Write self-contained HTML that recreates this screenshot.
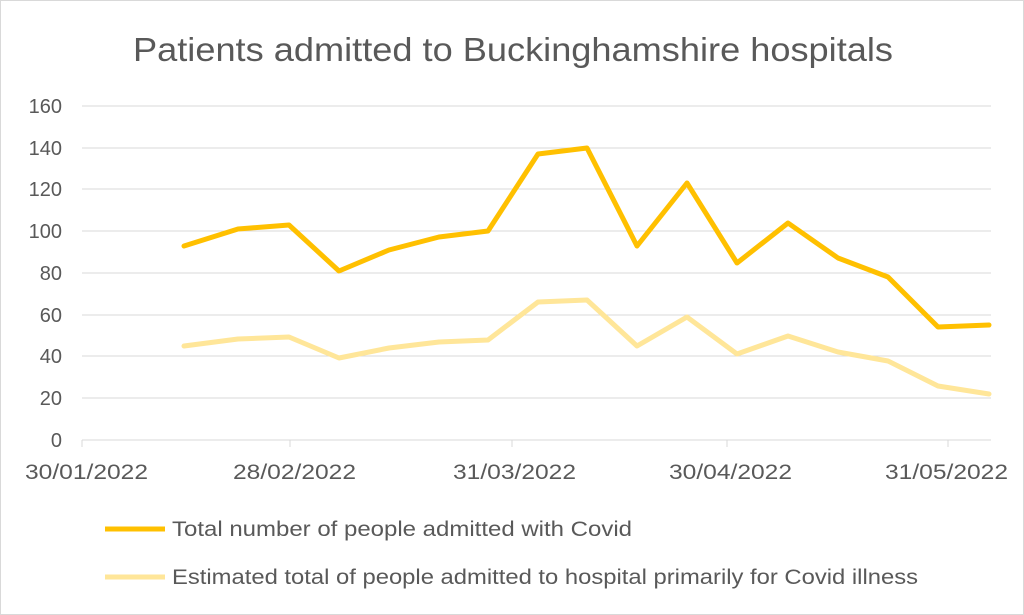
<!DOCTYPE html>
<html><head><meta charset="utf-8"><style>
html,body{margin:0;padding:0;background:#fff;}
svg{display:block;font-family:"Liberation Sans",sans-serif;}
</style></head><body>
<svg width="1024" height="615" viewBox="0 0 1024 615" xmlns="http://www.w3.org/2000/svg">
<rect x="0.5" y="0.5" width="1023" height="614" fill="#fff" stroke="#d9d9d9"/>
<text x="133" y="61" font-size="33" fill="#595959" textLength="760" lengthAdjust="spacingAndGlyphs">Patients admitted to Buckinghamshire hospitals</text>
<g stroke="#d9d9d9" stroke-width="1">
<line x1="82" y1="106" x2="991" y2="106"/>
<line x1="82" y1="148" x2="991" y2="148"/>
<line x1="82" y1="189" x2="991" y2="189"/>
<line x1="82" y1="231" x2="991" y2="231"/>
<line x1="82" y1="273" x2="991" y2="273"/>
<line x1="82" y1="315" x2="991" y2="315"/>
<line x1="82" y1="356" x2="991" y2="356"/>
<line x1="82" y1="398" x2="991" y2="398"/>
<line x1="82" y1="440" x2="991" y2="440"/>
<line x1="82" y1="440" x2="82" y2="447"/>
<line x1="290" y1="440" x2="290" y2="447"/>
<line x1="512" y1="440" x2="512" y2="447"/>
<line x1="727" y1="440" x2="727" y2="447"/>
<line x1="948" y1="440" x2="948" y2="447"/>
</g>
<g font-size="20" fill="#595959" text-anchor="end">
<text x="62" y="113">160</text><text x="62" y="155">140</text><text x="62" y="196">120</text>
<text x="62" y="238">100</text><text x="62" y="280">80</text><text x="62" y="322">60</text>
<text x="62" y="363">40</text><text x="62" y="405">20</text><text x="62" y="447">0</text>
</g>
<g font-size="21" fill="#595959">
<text x="25" y="479" textLength="123" lengthAdjust="spacingAndGlyphs">30/01/2022</text>
<text x="233" y="479" textLength="123" lengthAdjust="spacingAndGlyphs">28/02/2022</text>
<text x="453" y="479" textLength="123" lengthAdjust="spacingAndGlyphs">31/03/2022</text>
<text x="669" y="479" textLength="123" lengthAdjust="spacingAndGlyphs">30/04/2022</text>
<text x="885" y="479" textLength="123" lengthAdjust="spacingAndGlyphs">31/05/2022</text>
</g>
<polyline fill="none" stroke="#FFE699" stroke-width="5" stroke-linejoin="round" stroke-linecap="round"
points="184,346 238,339 289,337 339,358 389,348 439,342 488,340 538,302 587,300 637,346 687,317 737,354 788,336 838,352 888,361 938,386 989,394"/>
<polyline fill="none" stroke="#FFC000" stroke-width="5" stroke-linejoin="round" stroke-linecap="round"
points="184,246 238,229 289,225 339,271 389,250 439,237 488,231 538,154 587,148 637,246 687,183 737,263 788,223 838,258 888,277 938,327 989,325"/>
<line x1="105" y1="529" x2="165" y2="529" stroke="#FFC000" stroke-width="5"/>
<text x="172" y="536" font-size="21" fill="#595959" textLength="460" lengthAdjust="spacingAndGlyphs">Total number of people admitted with Covid</text>
<line x1="105" y1="577" x2="165" y2="577" stroke="#FFE699" stroke-width="5"/>
<text x="172" y="584" font-size="21" fill="#595959" textLength="746" lengthAdjust="spacingAndGlyphs">Estimated total of people admitted to hospital primarily for Covid illness</text>
</svg>
</body></html>
